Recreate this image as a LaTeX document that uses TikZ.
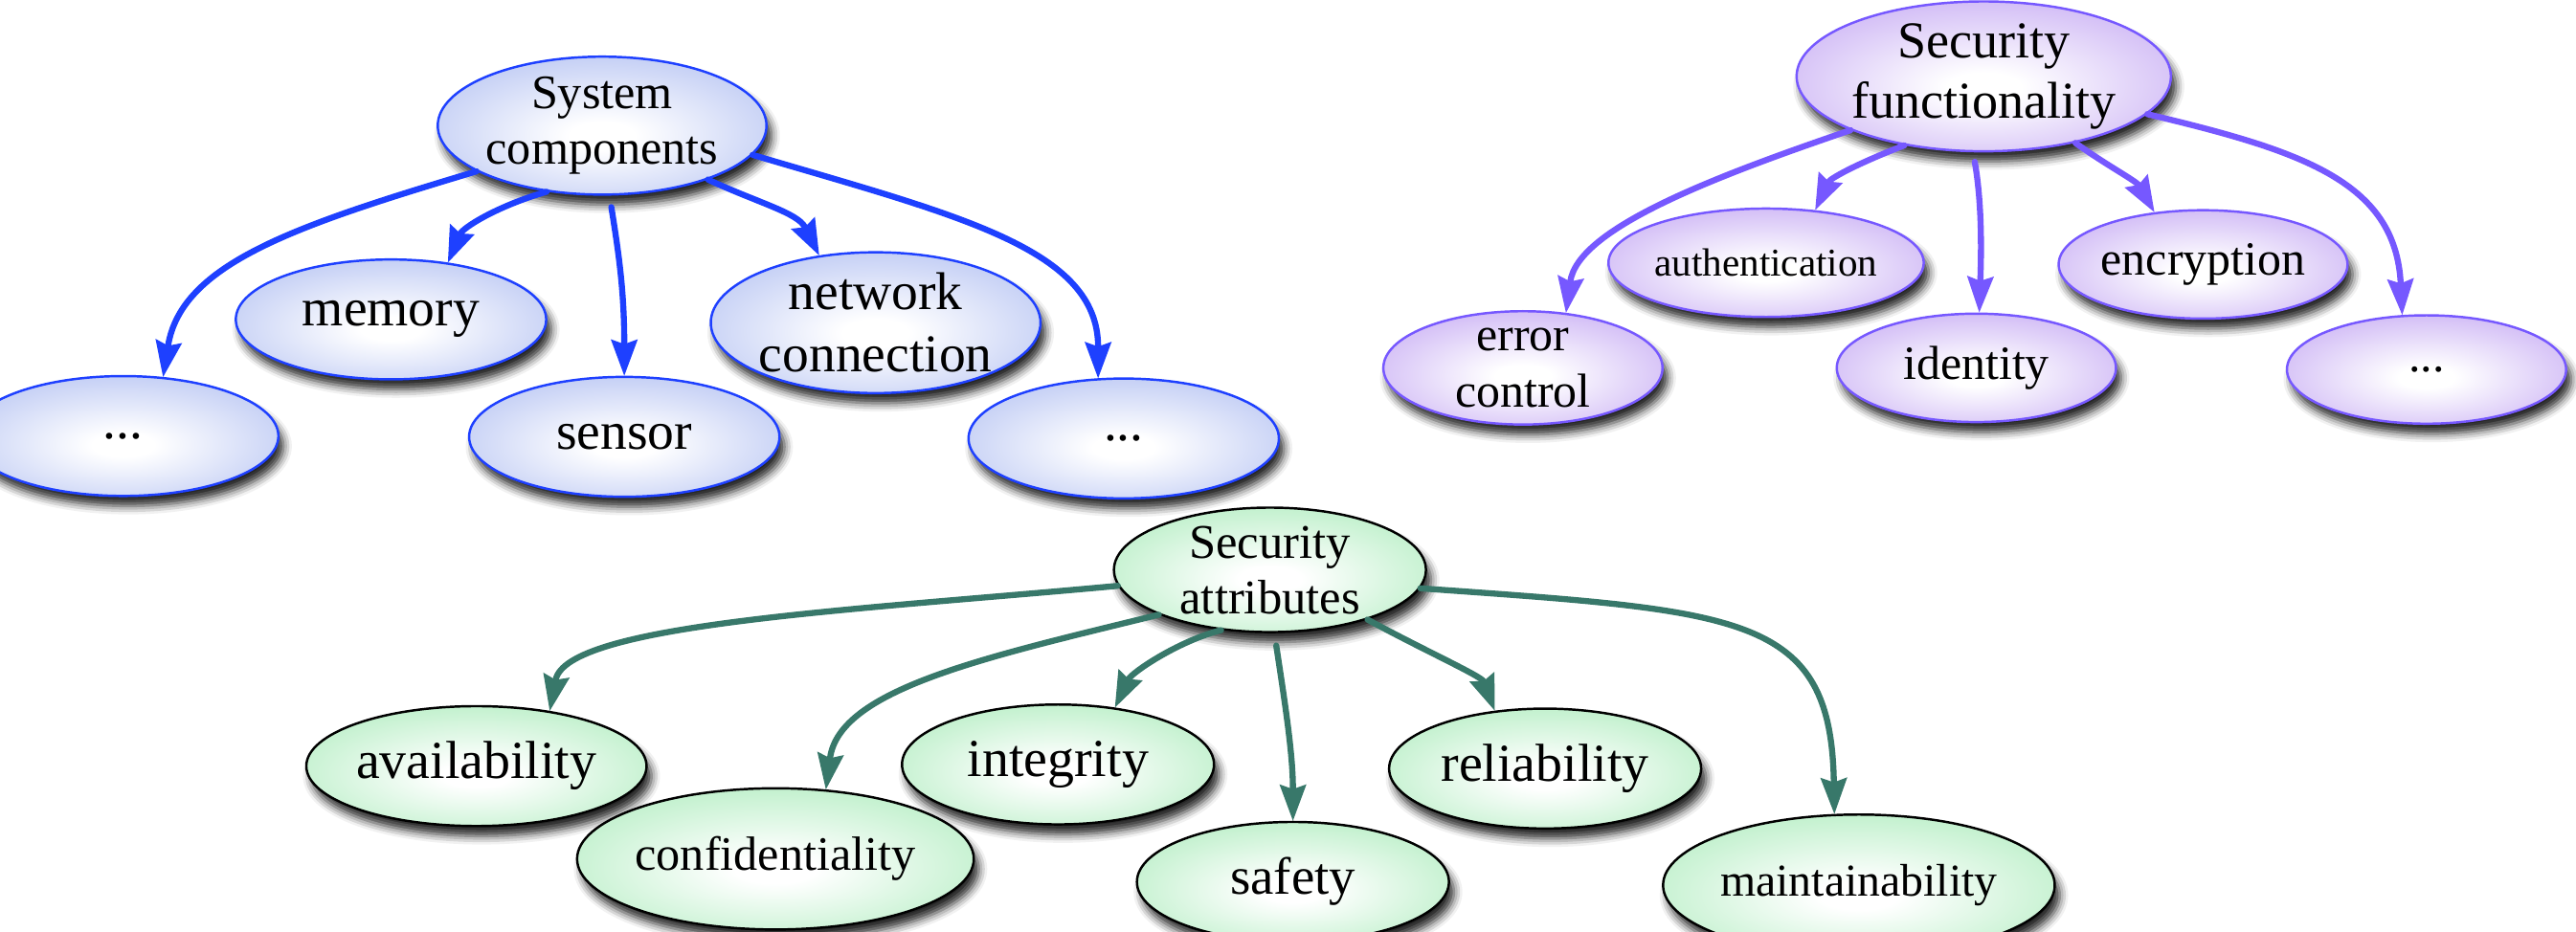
\documentclass[tikz,border=0pt]{standalone}
\usepackage{fontspec}
\setmainfont{Liberation Serif}
\usetikzlibrary{shapes.geometric,arrows.meta,shadows.blur}
\definecolor{bedge}{RGB}{145,165,236}
\definecolor{bline}{RGB}{30,64,255}
\definecolor{pedge}{RGB}{172,132,238}
\definecolor{pline}{RGB}{118,88,255}
\definecolor{gedge}{RGB}{140,228,162}
\definecolor{gline}{RGB}{56,120,106}
\pgfdeclareradialshading{bshade}{\pgfpoint{0bp}{-4bp}}{color(0bp)=(white); color(5bp)=(white); color(48bp)=(bedge); color(75bp)=(bedge)}
\pgfdeclareradialshading{pshade}{\pgfpoint{0bp}{-4bp}}{color(0bp)=(white); color(5bp)=(white); color(48bp)=(pedge); color(75bp)=(pedge)}
\pgfdeclareradialshading{gshade}{\pgfpoint{0bp}{-4bp}}{color(0bp)=(white); color(5bp)=(white); color(48bp)=(gedge); color(75bp)=(gedge)}
\begin{document}
\begin{tikzpicture}[x=0.01716cm, y=-0.01716cm,
  base/.style={ellipse, inner sep=0pt, align=center, line width=0.7pt,
    blur shadow={shadow xshift=1.5pt, shadow yshift=-3pt, shadow blur radius=2.5pt, shadow opacity=85}},
  bn/.style={base, draw=bline, shading=bshade, minimum width=3.243cm, minimum height=1.253cm, font=\fontsize{15.8}{18.5}\selectfont},
  pn/.style={base, draw=pline, shading=pshade, minimum width=2.917cm, minimum height=1.133cm, font=\fontsize{14.2}{17}\selectfont},
  gn/.style={base, draw=black, shading=gshade, minimum width=3.26cm, minimum height=1.253cm, font=\fontsize{15.9}{18.5}\selectfont},
  tap/.style={draw=#1, line width=1.8pt, line cap=round, -{Stealth[length=0.38cm, width=0.28cm, inset=0.05cm, line width=0.4pt]}}]
\useasboundingbox (0,0) rectangle (1568,567);

% blue tree
\node[bn, font=\fontsize{14.3}{16.5}\selectfont] (sc) at (366.5,76.5) {System\\components};
\node[bn] (mem) at (238,194.5) {memory};
\node[bn] (sen) at (380,266) {sensor};
\node[bn] (net) at (533,196.5) {network\\connection};
\node[bn] (dl) at (75,265.5) {...};
\node[bn] (dr) at (684,267) {...};

% purple tree
\node[pn, minimum width=3.552cm, minimum height=1.356cm, font=\fontsize{15.4}{18}\selectfont] (sf) at (1207.5,46.5) {Security\\functionality};
\node[pn, font=\fontsize{11.7}{14}\selectfont] (au) at (1075,160) {authentication};
\node[pn] (en) at (1341,161) {encryption};
\node[pn] (ec) at (927,224) {error\\control};
\node[pn] (id) at (1203,224) {identity};
\node[pn] (pr) at (1477,225) {...};

% green tree
\node[gn, minimum height=1.27cm, font=\fontsize{14.4}{16.5}\selectfont] (sa) at (773,347) {Security\\attributes};
\node[gn] (av) at (290,466.5) {availability};
\node[gn] (ig) at (644,465.5) {integrity};
\node[gn] (rl) at (940.5,468) {reliability};
\node[gn, font=\fontsize{15.6}{18}\selectfont] (sy) at (787,537) {safety};
\node[gn, minimum width=3.775cm, minimum height=1.476cm, font=\fontsize{14.3}{17}\selectfont] (cf) at (472,523) {confidentiality};
\node[gn, minimum width=3.81cm, minimum height=1.476cm, font=\fontsize{13.6}{16}\selectfont] (mt) at (1131.5,539) {maintainability};

% blue connectors
\draw[tap=bline] (sc.200) .. controls +(-110,33) and +(11,-69) .. (dl.56);
\draw[tap=bline] (sc.230) .. controls +(-31,9) and +(9,-21) .. (mem.45);
\draw[tap=bline, shorten <=0.12cm] (sc.276) .. controls +(6,37) and +(0,-50) .. (sen.90);
\draw[tap=bline] (sc.333) .. controls +(30,14) and +(-13,-26) .. (net.130);
\draw[tap=bline] (sc.349) .. controls +(125,37) and +(0,-79) .. (dr.113);

% purple connectors
\draw[tap=pline] (sf.202) .. controls +(-85,29) and +(7,-51) .. (ec.52);
\draw[tap=pline] (sf.221) .. controls +(-31,12) and +(9,-19) .. (au.47);
\draw[tap=pline, shorten <=0.1cm] (sf.262) .. controls +(6,34) and +(1,-30) .. (id.87);
\draw[tap=pline] (sf.324) .. controls +(18,13) and +(-11,-19) .. (en.133);
\draw[tap=pline] (sf.347) .. controls +(92,22) and +(-4,-82) .. (pr.114);

% green connectors
\draw[tap=gline] (sa.186) .. controls +(-162,15) and +(10,-53) .. (av.37);
\draw[tap=gline] (sa.202) .. controls +(-106,26) and +(8,-61) .. (cf.54);
\draw[tap=gline] (sa.231) .. controls +(-27,7) and +(10,-21) .. (ig.45);
\draw[tap=gline, shorten <=0.13cm] (sa.274) .. controls +(7,46) and +(0,-40) .. (sy.90);
\draw[tap=gline] (sa.333) .. controls +(33,18) and +(-8,-21) .. (rl.131);
\draw[tap=gline] (sa.353) .. controls +(196,14) and +(-2,-122) .. (mt.109);
\end{tikzpicture}
\end{document}
